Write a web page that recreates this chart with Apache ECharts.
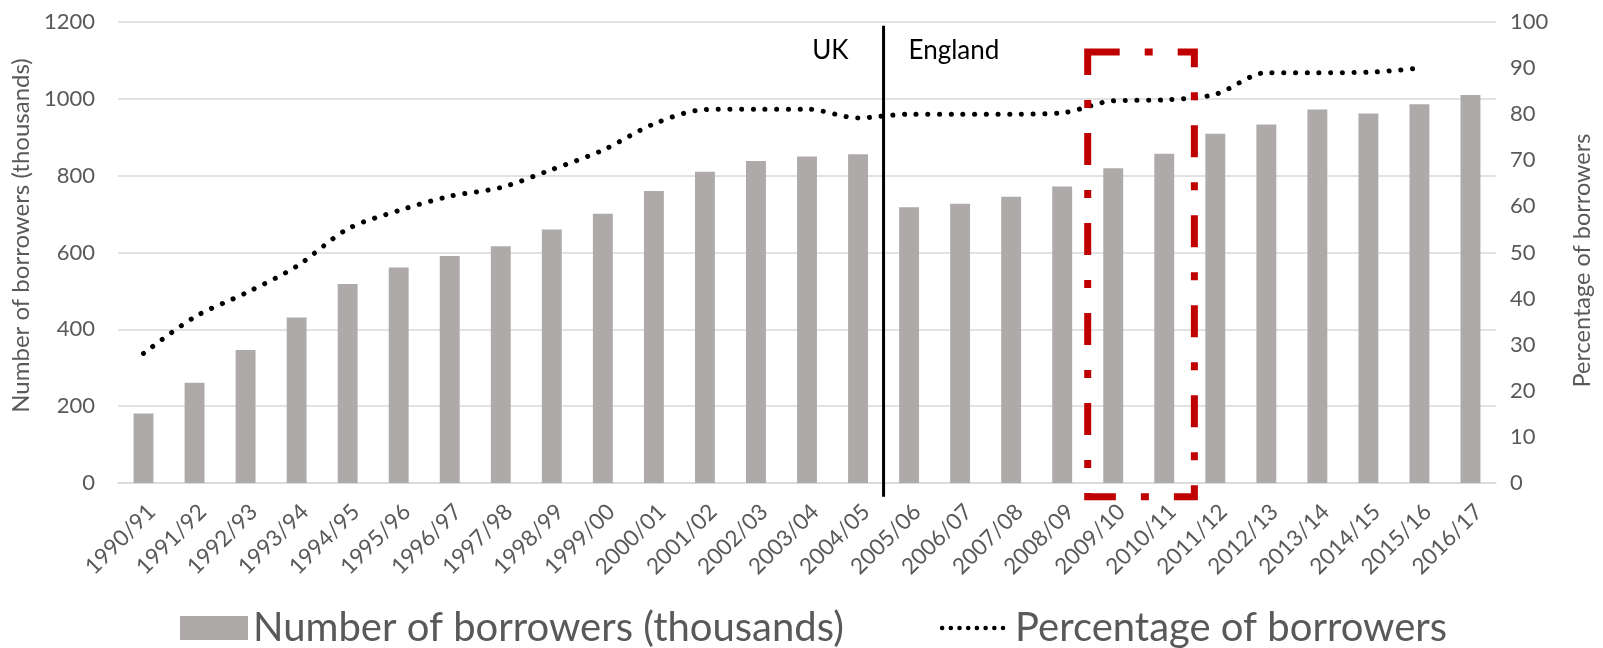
<!DOCTYPE html>
<html>
<head>
<meta charset="utf-8">
<title>Student loan borrowers</title>
<script src="https://cdn.jsdelivr.net/npm/echarts@6/dist/echarts.min.js"></script>
<style>
  html, body { margin: 0; padding: 0; background: #ffffff; }
  #chart { width: 1603px; height: 648px; }
</style>
</head>
<body>
<div id="chart"></div>
<script>
// Academic years on the category axis
const categories = [
  '1990/91', '1991/92', '1992/93', '1993/94', '1994/95', '1995/96', '1996/97',
  '1997/98', '1998/99', '1999/00', '2000/01', '2001/02', '2002/03', '2003/04',
  '2004/05', '2005/06', '2006/07', '2007/08', '2008/09', '2009/10', '2010/11',
  '2011/12', '2012/13', '2013/14', '2014/15', '2015/16', '2016/17'
];

// Number of borrowers, thousands (left axis)
const borrowers = [
  181, 261, 346, 431, 518, 561, 591, 616, 660, 701, 760, 810, 838, 850,
  856, 718, 727, 745, 772, 819, 857, 909, 933, 972, 962, 986, 1010
];

// Percentage of eligible students borrowing (right axis); no figure for 2016/17
const percentage = [
  28.1, 36.0, 41.2, 47.0, 55.1, 59.1, 62.2, 64.1, 68.0, 72.2, 77.9, 81.0, 81.1, 81.1,
  79.2, 80.0, 80.0, 80.0, 80.3, 82.9, 83.1, 84.3, 89.0, 89.0, 89.1, 90.0, null
];

// Axis ranges: [min, max, interval]
const leftAxisRange = [0, 1200, 200];
const rightAxisRange = [0, 100, 10];

// Annotations: UK/England split after 2004/05, highlighted years 2009/10–2010/11
const regionLabels = ['UK', 'England'];
const highlightFrom = 18.5;   // category position of the box's left edge
const highlightTo = 20.59;    // category position of the box's right edge
const highlightTop = 1122;    // left-axis value of the box's top edge
const highlightBottom = -36;  // left-axis value of the box's bottom edge

const FONT = 'Lato, "Open Sans", sans-serif';
const GREY_TEXT = '#595959';

const chart = echarts.init(document.getElementById('chart'), null, { renderer: 'canvas' });

chart.setOption({
  animation: false,
  backgroundColor: '#ffffff',
  textStyle: { fontFamily: FONT },
  grid: { left: 118, right: 107, top: 22, bottom: 165, containLabel: false },
  legend: {
    left: 175,
    top: 603,
    itemWidth: 68,
    itemHeight: 24,
    itemGap: 96,
    textStyle: { fontSize: 40, color: GREY_TEXT, fontFamily: FONT },
    data: [
      { name: 'Number of borrowers (thousands)', icon: 'rect' },
      {
        name: 'Percentage of borrowers',
        itemStyle: { opacity: 0 },
        lineStyle: { color: '#000000', width: 4.5, type: [0.1, 8.6], cap: 'round' }
      }
    ]
  },
  xAxis: {
    type: 'category',
    data: categories,
    axisLine: { show: true, lineStyle: { color: '#D9D9D9', width: 1.5 } },
    axisTick: { show: false },
    axisLabel: {
      rotate: 45,
      interval: 0,
      margin: 17,
      align: 'right',
      verticalAlign: 'top',
      color: GREY_TEXT,
      fontSize: 22.5,
      fontFamily: FONT
    }
  },
  yAxis: [
    {
      type: 'value',
      min: leftAxisRange[0],
      max: leftAxisRange[1],
      interval: leftAxisRange[2],
      name: 'Number of borrowers (thousands)',
      nameLocation: 'middle',
      nameGap: 84,
      nameTextStyle: {
        fontSize: 24,
        color: GREY_TEXT,
        fontFamily: FONT,
        padding: [0, 0, 0, 34]
      },
      axisLine: { show: false },
      axisTick: { show: false },
      axisLabel: {
        margin: 23,
        color: GREY_TEXT,
        fontSize: 22,
        fontFamily: FONT,
        formatter: (v) => String(v)
      },
      splitLine: { lineStyle: { color: '#D9D9D9', width: 1.5 } }
    },
    {
      type: 'value',
      min: rightAxisRange[0],
      max: rightAxisRange[1],
      interval: rightAxisRange[2],
      position: 'right',
      name: 'Percentage of borrowers',
      nameLocation: 'middle',
      nameGap: 74,
      nameTextStyle: {
        fontSize: 23.5,
        color: GREY_TEXT,
        fontFamily: FONT,
        padding: [0, 16, 0, 0]
      },
      axisLine: { show: false },
      axisTick: { show: false },
      axisLabel: {
        margin: 14,
        color: GREY_TEXT,
        fontSize: 22,
        fontFamily: FONT,
        formatter: (v) => String(v)
      },
      splitLine: { show: false }
    }
  ],
  series: [
    {
      name: 'Number of borrowers (thousands)',
      type: 'bar',
      yAxisIndex: 0,
      data: borrowers,
      barWidth: '39%',
      itemStyle: { color: '#AEAAAA' },
      z: 2
    },
    {
      name: 'Percentage of borrowers',
      type: 'line',
      yAxisIndex: 1,
      data: percentage,
      smooth: 0.3,
      symbol: 'none',
      showSymbol: false,
      connectNulls: false,
      itemStyle: { color: '#000000' },
      lineStyle: { color: '#000000', width: 5, type: [0.1, 11.6], cap: 'round' },
      z: 3
    }
  ]
});

// Overlay annotations positioned through the chart's own scales
function drawAnnotations() {
  const x0 = chart.convertToPixel({ xAxisIndex: 0 }, 0);
  const x1 = chart.convertToPixel({ xAxisIndex: 0 }, 1);
  const step = x1 - x0;
  const xAt = (pos) => x0 + pos * step;
  const yLeft = (v) => chart.convertToPixel({ yAxisIndex: 0 }, v);

  const splitX = xAt(14.5);
  const boxLeft = xAt(highlightFrom);
  const boxRight = xAt(highlightTo);
  const boxTop = yLeft(highlightTop);
  const boxBottom = yLeft(highlightBottom);
  const labelY = yLeft(1125);

  chart.setOption({
    graphic: [
      {
        type: 'line',
        z: 10,
        shape: { x1: splitX, y1: yLeft(1190), x2: splitX, y2: yLeft(-36) },
        style: { stroke: '#000000', lineWidth: 3 }
      },
      {
        type: 'text',
        z: 10,
        x: splitX - 35,
        y: labelY,
        style: {
          text: regionLabels[0],
          fill: '#000000',
          font: '26px ' + FONT,
          textAlign: 'right',
          textVerticalAlign: 'middle'
        }
      },
      {
        type: 'text',
        z: 10,
        x: splitX + 25,
        y: labelY,
        style: {
          text: regionLabels[1],
          fill: '#000000',
          font: '26px ' + FONT,
          textAlign: 'left',
          textVerticalAlign: 'middle'
        }
      },
      {
        type: 'rect',
        z: 11,
        shape: {
          x: boxLeft,
          y: boxTop,
          width: boxRight - boxLeft,
          height: boxBottom - boxTop
        },
        style: {
          fill: 'none',
          stroke: '#C00000',
          lineWidth: 7,
          lineDash: [32, 25, 8, 25],
          lineCap: 'butt'
        }
      }
    ]
  });
}

drawAnnotations();
</script>
</body>
</html>
